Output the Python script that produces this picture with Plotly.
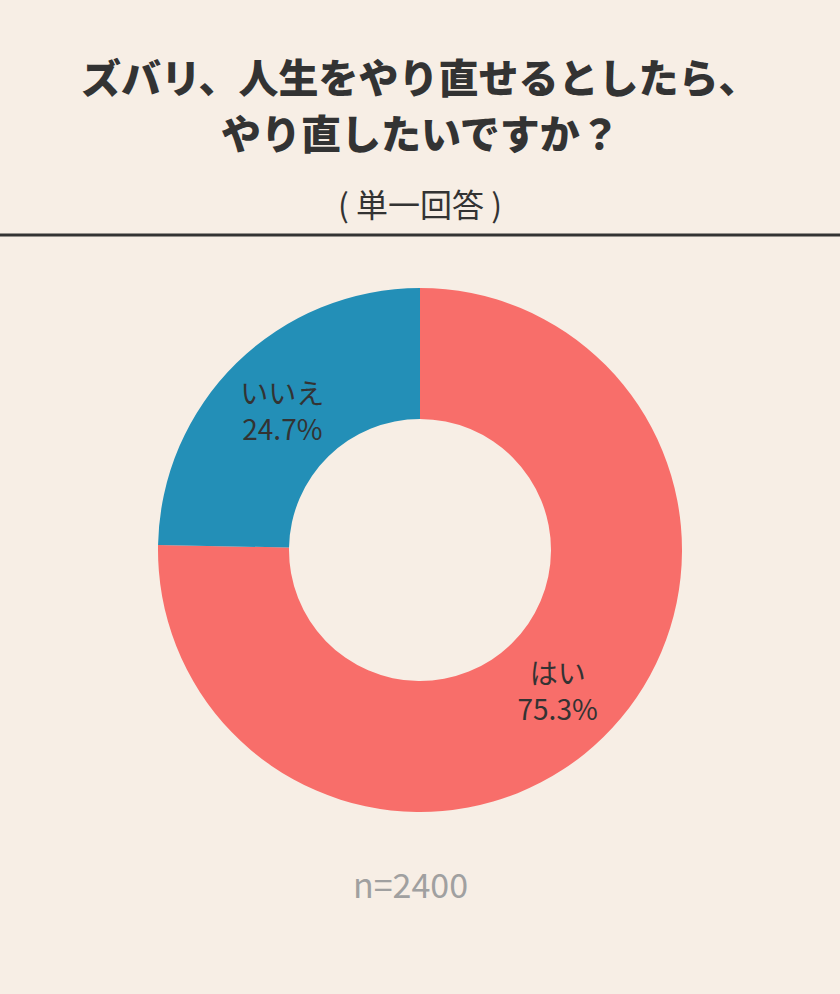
import plotly.graph_objects as go

# Survey data
labels = ['はい', 'いいえ']
values = [75.3, 24.7]
colors = ['#F86E6A', '#238FB7']
sample_note = 'n=2400'

bg = '#F7EEE5'
font_jp = 'Noto Sans CJK JP'
W, H = 840, 994


def py(px):
    # pixel row from top -> paper y
    return 1 - px / H


fig = go.Figure(go.Pie(
    labels=labels,
    values=values,
    hole=0.5,
    sort=False,
    direction='clockwise',
    rotation=0,
    marker=dict(colors=colors, line=dict(width=0)),
    texttemplate='%{label}<br>%{value:.1f}%',
    textposition='inside',
    insidetextorientation='horizontal',
    textfont=dict(family=font_jp, size=28, color='#333333'),
    hoverinfo='label+percent',
    domain=dict(x=[158 / W, 682 / W], y=[py(812), py(288)]),
    showlegend=False,
))

fig.update_layout(
    width=W, height=H,
    margin=dict(l=0, r=0, t=0, b=0),
    paper_bgcolor=bg, plot_bgcolor=bg,
    font=dict(family=font_jp, color='#333333'),
    annotations=[
        dict(text='ズバリ、人生をやり直せるとしたら、', x=0.5, y=py(76),
             xref='paper', yref='paper', showarrow=False, yanchor='middle',
             font=dict(size=40, color='#333333', family=font_jp, weight=900)),
        dict(text='やり直したいですか？', x=0.5, y=py(132),
             xref='paper', yref='paper', showarrow=False, yanchor='middle',
             font=dict(size=40, color='#333333', family=font_jp, weight=900)),
        dict(text='( 単一回答 )', x=0.5, y=py(203),
             xref='paper', yref='paper', showarrow=False, yanchor='middle',
             font=dict(size=32, color='#333333', family=font_jp)),
        dict(text=sample_note, x=410 / W, y=py(883),
             xref='paper', yref='paper', showarrow=False, yanchor='middle',
             font=dict(size=34, color='#A0A0A0', family=font_jp)),
    ],
    shapes=[
        dict(type='line', xref='paper', yref='paper', x0=0, x1=1,
             y0=py(235), y1=py(235),
             line=dict(color='#333333', width=3)),
    ],
)

fig.write_html('out.html',
               config={'displayModeBar': False},
               post_script="document.body.style.margin='0';"
                           "document.body.style.background='" + bg + "';")
